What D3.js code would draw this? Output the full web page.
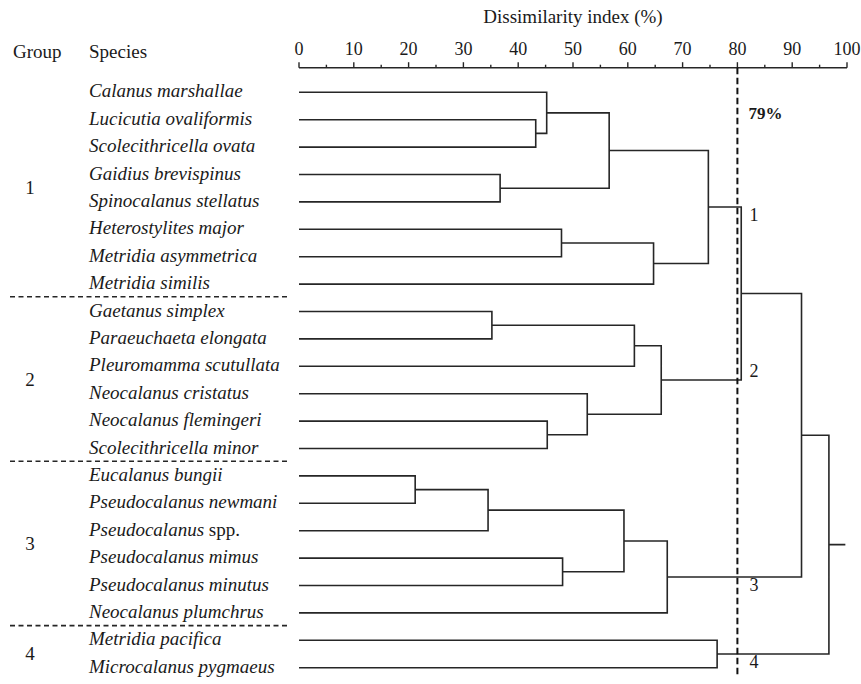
<!DOCTYPE html>
<html>
<head>
<meta charset="utf-8">
<script src="https://cdn.jsdelivr.net/npm/d3@7"></script>
<style>
  html, body { margin: 0; padding: 0; background: #fff; }
</style>
</head>
<body>
<svg id="chart" width="861" height="684"></svg>
<script>
// Species (leaf order, top to bottom)
const species = [
  "Calanus marshallae", "Lucicutia ovaliformis", "Scolecithricella ovata",
  "Gaidius brevispinus", "Spinocalanus stellatus", "Heterostylites major",
  "Metridia asymmetrica", "Metridia similis",
  "Gaetanus simplex", "Paraeuchaeta elongata", "Pleuromamma scutullata",
  "Neocalanus cristatus", "Neocalanus flemingeri", "Scolecithricella minor",
  "Eucalanus bungii", "Pseudocalanus newmani", "Pseudocalanus spp.",
  "Pseudocalanus mimus", "Pseudocalanus minutus", "Neocalanus plumchrus",
  "Metridia pacifica", "Microcalanus pygmaeus"
];

// Groups and number of species in each
const groupNames = ["1", "2", "3", "4"];
const groupSizes = [8, 6, 6, 2];

// Agglomeration steps: [childA, childB, dissimilarity %]
// indices < 22 are species; index 22 + k is the k-th merge
const merges = [
  [1, 2, 43.2],    // 22
  [0, 22, 45.2],   // 23
  [3, 4, 36.7],    // 24
  [23, 24, 56.6],  // 25
  [5, 6, 47.9],    // 26
  [26, 7, 64.7],   // 27
  [25, 27, 74.7],  // 28  group 1
  [8, 9, 35.2],    // 29
  [29, 10, 61.2],  // 30
  [12, 13, 45.3],  // 31
  [11, 31, 52.6],  // 32
  [30, 32, 66.1],  // 33  group 2
  [28, 33, 80.7],  // 34
  [14, 15, 21.2],  // 35
  [35, 16, 34.5],  // 36
  [17, 18, 48.1],  // 37
  [36, 37, 59.3],  // 38
  [38, 19, 67.2],  // 39  group 3
  [34, 39, 91.7],  // 40
  [20, 21, 76.3],  // 41  group 4
  [40, 41, 96.7]   // 42  root
];
const rootTail = 99.7;

// Clusters cut at the threshold, with their group label
const groupNodes = [28, 33, 39, 41];
const cutValue = 80;
const cutLabel = "79%";

// Axis ticks
const majorTicks = [0, 10, 20, 30, 40, 50, 60, 70, 80, 90, 100];
const minorTicks = [5, 15, 25, 35, 45, 55, 65, 75, 85, 95];

const FONT = "'Liberation Serif', 'Times New Roman', Times, serif";
const svg = d3.select("#chart")
  .attr("font-family", FONT)
  .style("font-family", FONT);
const stroke = "#262626";
const ink = "#1a1a1a";

const x = d3.scaleLinear().domain([0, 100]).range([299, 847]);
const y = d3.scalePoint().domain(d3.range(species.length)).range([92.3, 667.7]);
const axisY = 67.7;

function label(sel) {
  return sel.attr("font-family", FONT).attr("fill", ink);
}

// Title
label(svg.append("text"))
  .attr("x", x(50)).attr("y", 23)
  .attr("text-anchor", "middle")
  .attr("font-size", 19)
  .text("Dissimilarity index (%)");

// Axis with ticks pointing up
svg.append("line")
  .attr("x1", x(0)).attr("x2", x(100))
  .attr("y1", axisY).attr("y2", axisY)
  .attr("stroke", stroke).attr("stroke-width", 1.4);

svg.selectAll(".major").data(majorTicks).join("line")
  .attr("x1", d => x(d)).attr("x2", d => x(d))
  .attr("y1", axisY).attr("y2", axisY - 5.5)
  .attr("stroke", stroke).attr("stroke-width", 1.4);

svg.selectAll(".minor").data(minorTicks).join("line")
  .attr("x1", d => x(d)).attr("x2", d => x(d))
  .attr("y1", axisY).attr("y2", axisY - 3)
  .attr("stroke", stroke).attr("stroke-width", 1.4);

label(svg.selectAll(".ticklabel").data(majorTicks).join("text"))
  .attr("x", d => x(d)).attr("y", 55)
  .attr("text-anchor", "middle")
  .attr("font-size", 18)
  .text(d => d);

// Column headers
label(svg.append("text")).attr("x", 13).attr("y", 58).attr("font-size", 19).text("Group");
label(svg.append("text")).attr("x", 89).attr("y", 58).attr("font-size", 19).text("Species");

// Species names (genus/species italic, "spp." upright)
const names = label(svg.selectAll(".sp").data(species).join("text"))
  .attr("x", 89).attr("y", (d, i) => y(i) + 5)
  .attr("font-size", 19);
names.each(function (d) {
  const t = d3.select(this);
  const m = d.match(/^(.*?)( spp\.)$/);
  if (m) {
    t.append("tspan").attr("font-style", "italic").text(m[1]);
    t.append("tspan").text(m[2]);
  } else {
    t.attr("font-style", "italic").text(d);
  }
});

// Group numbers and separators
let start = 0;
groupSizes.forEach((n, g) => {
  const first = start, last = start + n - 1;
  label(svg.append("text"))
    .attr("x", 30).attr("y", (y(first) + y(last)) / 2 + 6)
    .attr("text-anchor", "middle")
    .attr("font-size", 19)
    .text(groupNames[g]);
  if (g < groupSizes.length - 1) {
    const sy = (y(last) + y(last + 1)) / 2 - 1;
    svg.append("line")
      .attr("x1", 10).attr("x2", 290).attr("y1", sy).attr("y2", sy)
      .attr("stroke", stroke).attr("stroke-width", 1.6)
      .attr("stroke-dasharray", "5,3.5");
  }
  start += n;
});

// Dendrogram layout: node x from dissimilarity, node y = midpoint of children
const nodes = species.map((s, i) => ({ x: x(0), y: y(i) }));
merges.forEach(([a, b, h]) => {
  nodes.push({ x: x(h), y: (nodes[a].y + nodes[b].y) / 2, a, b });
});

const path = d3.path();
nodes.forEach(nd => {
  if (nd.a === undefined) return;
  const A = nodes[nd.a], B = nodes[nd.b];
  path.moveTo(A.x, A.y); path.lineTo(nd.x, A.y);
  path.lineTo(nd.x, B.y); path.lineTo(B.x, B.y);
});
const root = nodes[nodes.length - 1];
path.moveTo(root.x, root.y); path.lineTo(x(rootTail), root.y);

svg.append("path")
  .attr("d", path.toString())
  .attr("fill", "none")
  .attr("stroke", stroke)
  .attr("stroke-width", 1.6);

// Cut line at the threshold
svg.append("line")
  .attr("x1", x(cutValue)).attr("x2", x(cutValue))
  .attr("y1", axisY).attr("y2", 676)
  .attr("stroke", "#111").attr("stroke-width", 2)
  .attr("stroke-dasharray", "6.5,3.5");

label(svg.append("text"))
  .attr("x", x(cutValue) + 11).attr("y", 119)
  .attr("font-size", 17).attr("font-weight", "bold")
  .text(cutLabel);

// Cluster labels beside the cut line
groupNodes.forEach((id, g) => {
  const nd = nodes[id];
  const dy = g === 1 ? -3 : 14;
  label(svg.append("text"))
    .attr("x", x(cutValue) + 12).attr("y", nd.y + dy)
    .attr("font-size", 18)
    .text(groupNames[g]);
});
</script>
</body>
</html>
